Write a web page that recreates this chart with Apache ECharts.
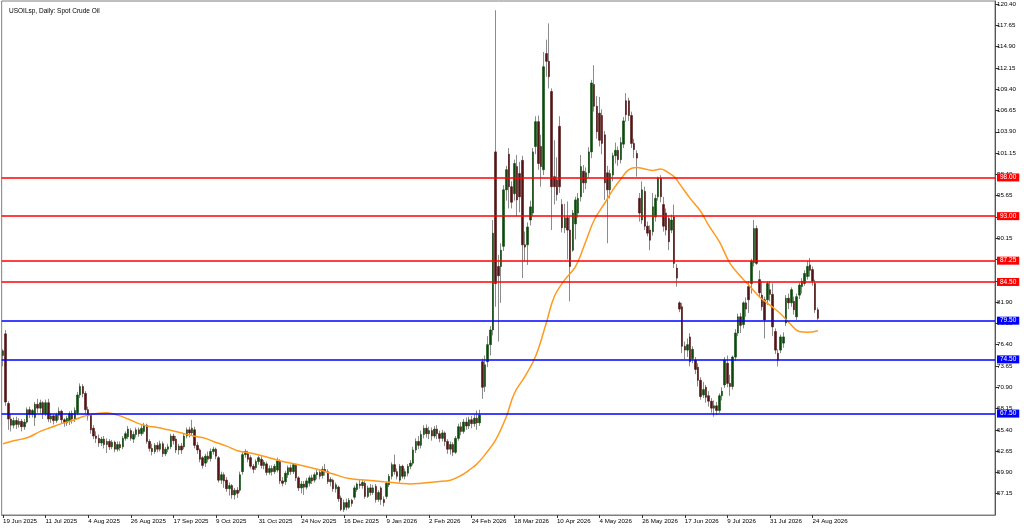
<!DOCTYPE html>
<html>
<head>
<meta charset="utf-8">
<script src="https://cdn.jsdelivr.net/npm/echarts@6/dist/echarts.min.js"></script>
<style>
html,body{margin:0;padding:0;background:#fff;}
#chart{width:1024px;height:530px;}
</style>
</head>
<body>
<div id="chart"></div>
<script>
var chartTitle = 'USOILsp, Daily: Spot Crude Oil';
var xTickLabels = ['19 Jun 2025','11 Jul 2025','4 Aug 2025','26 Aug 2025','17 Sep 2025','9 Oct 2025','31 Oct 2025','24 Nov 2025','16 Dec 2025','9 Jan 2026','2 Feb 2026','24 Feb 2026','18 Mar 2026','10 Apr 2026','4 May 2026','26 May 2026','17 Jun 2026','9 Jul 2026','31 Jul 2026','24 Aug 2026'];
var barsPerTick = 16;
var slotCount = 373;
var redLevels = [98.00, 93.00, 87.25, 84.50];
var blueLevels = [79.50, 74.50, 67.50];
var yMin = 54.40, yMax = 120.79, yStep = 2.75;

// daily candles: [open, close, low, high]
var candles = [
[75.0,75.6,73.6,75.8],[77.8,69.0,68.5,78.3],[68.8,66.8,65.4,69.1],[66.8,66.0,65.2,67.4],[66.0,66.6,65.6,67.0],
[66.6,66.1,65.5,67.1],[66.1,66.5,65.7,66.9],[66.5,65.8,65.2,66.8],[65.8,66.4,65.4,66.8],[66.4,68.0,66.2,68.3],
[68.0,67.4,66.9,68.4],[67.4,67.9,67.0,68.1],[67.0,68.7,65.9,69.0],[68.7,68.2,67.6,69.4],[68.2,68.9,67.5,69.3],
[68.9,67.5,66.8,69.1],[67.5,68.9,67.2,69.3],[68.9,66.8,66.4,69.4],[66.8,67.2,66.3,67.5],[67.2,66.6,66.1,67.4],
[66.6,67.3,66.3,67.6],[67.3,67.8,66.7,68.3],[67.8,66.7,66.2,68.0],[66.7,66.3,65.8,66.9],[66.3,66.9,65.9,67.2],
[66.5,67.5,66.0,67.8],[67.5,66.8,66.2,67.9],[66.8,67.9,66.4,68.3],[67.6,69.9,67.3,70.3],[69.9,71.0,69.5,71.4],
[71.0,70.1,69.6,71.3],[70.1,68.0,67.5,70.4],[68.0,67.2,66.6,68.4],[67.3,65.4,64.9,67.4],[65.6,64.6,64.2,66.0],
[64.6,64.3,63.7,65.2],[64.3,63.7,63.2,64.8],[63.7,64.2,63.3,64.5],[64.2,63.5,63.0,64.6],[63.5,63.9,62.4,64.3],
[63.9,63.2,62.8,64.2],[63.2,63.8,62.9,64.1],[63.8,62.9,62.5,64.0],[62.9,63.5,62.6,63.9],[63.5,63.1,62.7,63.9],
[63.2,64.3,62.9,64.6],[64.3,64.9,64.0,65.2],[64.5,65.5,64.2,65.9],[65.3,64.3,64.0,65.6],[64.2,64.8,63.7,65.2],
[64.8,65.4,64.4,65.7],[65.4,64.9,64.5,65.7],[64.9,65.6,64.6,66.0],[65.2,66.0,64.9,66.3],[66.0,63.9,63.6,66.2],
[63.9,63.0,62.6,64.2],[63.0,62.6,62.1,63.6],[62.6,63.4,62.3,63.7],[63.4,62.9,62.5,63.8],[62.9,63.6,62.6,64.0],
[63.6,62.3,61.9,63.9],[62.3,62.9,62.0,63.2],[62.9,63.2,62.5,63.6],[63.2,64.6,62.9,64.9],[64.6,64.0,63.5,64.9],
[64.2,62.8,62.4,64.6],[62.8,63.3,62.2,63.6],[63.3,62.8,62.3,63.7],[63.2,64.6,62.9,64.9],[64.6,65.4,64.3,65.7],
[65.4,65.0,64.4,65.8],[65.0,65.6,64.7,66.7],[65.4,63.4,63.0,65.8],[63.4,62.8,62.3,63.8],[62.8,61.6,61.2,63.0],
[61.8,60.8,60.4,62.0],[61.1,62.0,60.6,62.3],[62.0,61.6,61.2,62.6],[61.7,62.6,61.3,63.0],[62.6,62.9,62.2,63.2],
[62.9,62.0,61.6,63.1],[61.8,58.9,58.6,62.0],[58.9,59.6,58.4,60.0],[59.6,58.8,57.9,59.9],[58.9,57.8,57.4,59.3],
[57.8,58.2,56.9,58.6],[58.2,57.0,56.5,58.4],[57.0,57.6,56.4,57.9],[57.6,57.2,56.6,58.0],[57.6,59.6,57.3,60.0],
[60.0,62.2,59.6,62.6],[62.2,62.6,61.8,62.9],[62.3,61.6,61.2,62.7],[61.8,60.7,60.4,62.1],[60.7,60.3,59.8,61.0],
[60.5,61.3,60.2,61.6],[61.3,61.8,60.9,62.1],[61.6,60.8,60.4,62.0],[60.8,61.2,60.3,61.5],[61.0,59.9,59.5,61.3],
[59.9,60.4,59.6,60.8],[60.4,60.0,59.5,60.8],[60.0,60.7,59.7,61.0],[60.2,61.4,59.9,61.8],[61.3,58.8,58.4,61.6],
[58.8,58.5,58.1,59.3],[58.7,59.8,58.3,60.1],[59.6,60.5,59.2,60.8],[60.5,60.0,59.6,60.9],[60.0,60.9,59.7,61.1],
[60.8,59.2,58.8,61.0],[59.2,57.9,57.5,59.4],[57.9,58.4,57.2,58.8],[58.4,58.0,57.0,58.8],[58.0,58.8,57.7,59.2],
[58.5,59.2,58.1,59.5],[59.2,58.8,58.4,59.6],[58.9,59.6,58.6,59.9],[59.6,59.9,59.0,60.3],[59.9,59.4,59.0,60.2],
[59.5,60.3,59.1,60.7],[60.3,60.0,59.5,61.0],[60.0,58.7,58.4,60.3],[58.7,59.0,58.1,59.3],[58.9,57.8,57.4,59.1],
[57.8,58.3,57.3,58.6],[58.0,56.5,56.1,58.2],[56.6,55.1,54.9,56.9],[55.1,56.0,54.8,56.4],[56.0,55.4,55.0,56.5],
[55.4,56.3,55.2,56.6],[56.3,55.9,55.5,56.5],[56.7,57.9,56.4,58.2],[57.7,58.4,57.4,58.6],[58.4,58.2,57.8,59.0],
[58.2,58.6,57.8,58.9],[58.5,56.8,56.5,58.8],[56.8,57.9,56.6,58.2],[57.9,57.3,56.9,58.4],[57.3,57.9,57.0,58.3],
[58.1,56.4,56.0,58.4],[56.4,57.3,56.1,57.6],[57.9,56.4,55.7,58.1],[56.4,56.0,55.5,56.8],[56.8,58.5,56.5,58.7],
[58.3,59.4,58.0,59.7],[59.4,60.9,59.0,61.2],[60.9,60.0,59.6,62.2],[60.0,59.4,59.0,60.4],[58.9,60.7,58.6,61.0],
[60.7,59.4,59.1,60.9],[59.4,60.0,59.0,60.4],[59.8,60.7,59.4,61.0],[60.7,61.1,60.3,61.5],[61.1,62.8,60.8,63.2],
[62.8,63.9,62.4,64.3],[63.9,63.4,62.9,64.6],[63.4,64.8,63.0,65.3],[64.8,65.6,64.3,66.0],[65.6,64.9,64.4,66.1],
[64.9,65.3,64.2,65.8],[65.3,64.6,64.0,65.7],[64.6,65.5,64.3,65.9],[65.5,64.9,64.2,66.0],[64.9,64.3,63.8,65.3],
[64.3,65.0,63.9,65.4],[65.0,63.9,63.3,65.2],[63.9,62.9,62.3,64.2],[62.9,63.5,62.2,63.9],[63.5,62.5,62.0,63.8],
[62.5,64.3,62.3,64.6],[64.3,65.8,64.0,66.2],[65.8,65.2,64.7,66.4],[65.2,66.4,64.9,66.8],[66.4,65.9,65.4,67.0],
[65.9,66.7,65.5,67.1],[66.7,66.2,65.6,67.2],[66.2,66.9,65.8,67.4],[66.9,66.3,65.4,67.9],[66.3,67.3,65.9,68.0],
[74.2,70.9,69.4,74.6],[71.0,73.8,70.3,75.0],[74.2,76.4,73.5,77.5],[76.4,78.3,75.0,78.8],[78.3,90.8,77.6,92.5],
[101.3,84.3,81.3,119.6],[86.5,85.3,76.8,88.0],[86.5,88.6,81.8,89.5],[89.1,96.4,88.5,97.0],[96.4,99.0,95.0,99.5],
[101.0,96.8,94.0,101.8],[96.8,94.8,94.0,97.5],[95.9,99.8,95.0,100.3],[99.4,95.1,93.0,100.9],[98.5,95.5,93.5,100.0],
[100.2,89.3,85.0,100.8],[89.3,89.0,87.1,91.0],[89.3,91.6,86.7,92.2],[92.5,94.2,91.8,95.0],[93.4,101.3,93.0,101.8],
[102.0,105.2,101.0,105.9],[105.2,99.8,99.0,106.0],[102.0,99.4,96.8,103.5],[99.0,112.3,98.3,114.2],[114.0,113.0,111.0,115.8],
[113.0,111.0,109.5,117.9],[109.1,96.8,91.2,109.5],[98.1,96.8,94.5,102.8],[97.7,95.8,95.0,100.6],[104.6,96.8,96.0,105.9],
[94.5,91.5,90.9,95.2],[91.5,92.8,90.8,94.6],[92.8,91.2,87.4,94.9],[91.2,86.5,82.0,93.0],[88.6,93.4,88.4,93.8],
[92.0,95.1,90.0,95.5],[93.4,95.3,92.8,96.0],[95.5,99.4,94.9,100.9],[98.8,97.3,96.0,99.6],[97.3,98.6,96.5,99.3],
[98.6,101.3,98.0,101.9],[101.3,110.2,100.5,110.6],[110.0,107.2,106.5,112.5],[107.2,103.9,103.0,108.5],[106.3,102.8,102.0,108.4],
[106.0,102.4,101.0,106.8],[103.5,97.3,95.1,104.0],[98.6,96.4,89.5,99.5],[96.4,98.5,95.3,99.0],[98.3,100.8,97.5,101.2],
[100.8,101.5,99.8,102.5],[101.5,100.3,99.5,102.0],[100.3,102.5,99.8,103.2],[102.3,105.3,101.8,105.8],[107.9,106.1,105.2,108.9],
[107.9,106.0,105.3,108.3],[106.0,102.4,101.8,106.5],[102.4,101.6,100.5,103.0],[101.1,100.5,98.1,101.5],[95.3,93.4,92.3,96.0],
[92.5,96.4,92.0,97.5],[96.2,91.7,91.2,96.8],[91.7,90.8,90.4,92.3],[91.2,89.9,88.6,91.8],[91.0,94.2,90.5,96.0],
[92.9,95.3,92.3,95.8],[95.5,97.9,95.0,98.1],[97.9,95.5,94.8,98.3],[94.5,91.7,91.0,95.5],[93.4,91.2,90.5,94.0],
[92.7,89.7,88.6,93.0],[91.2,92.5,90.8,93.2],[92.9,86.9,86.3,94.5],[86.3,85.0,83.9,86.8],[81.8,81.0,80.6,82.0],
[81.3,76.2,75.3,81.8],[76.2,75.7,74.5,76.8],[75.7,76.4,74.8,77.2],[77.4,74.2,73.6,77.9],[74.6,75.8,74.0,76.2],
[74.4,73.2,72.6,74.8],[73.5,71.8,71.0,74.0],[71.8,69.7,69.3,72.2],[69.9,70.6,69.5,71.6],[70.9,69.6,68.9,71.2],
[69.8,69.1,68.4,70.4],[69.1,68.2,67.6,69.5],[68.2,68.5,67.1,69.2],[68.5,67.9,67.3,69.0],[67.9,69.8,67.6,70.1],
[69.8,70.4,69.2,70.9],[71.2,74.4,70.8,74.8],[74.0,71.4,70.9,75.0],[71.4,71.0,69.8,72.5],[71.0,74.8,70.6,75.0],
[74.8,77.9,74.3,78.4],[77.9,80.0,77.5,80.4],[80.0,78.9,77.9,80.5],[79.0,81.8,78.5,82.0],[81.8,81.0,80.0,82.5],
[83.9,82.2,80.5,84.6],[84.3,87.2,83.0,87.5],[87.0,91.4,86.5,92.5],[91.4,86.9,86.7,91.8],[84.8,83.1,82.5,86.0],
[82.8,81.3,80.8,84.6],[82.2,79.6,77.2,82.6],[82.2,84.3,81.5,84.6],[83.5,82.9,82.0,84.6],[82.9,78.7,77.5,84.3],
[78.1,75.7,75.2,78.5],[75.3,74.4,73.6,75.8],[75.7,77.4,75.3,77.7],[76.6,77.4,76.0,78.0],[79.2,82.4,78.8,82.8],
[82.4,81.8,81.0,83.0],[81.8,83.5,81.3,83.8],[82.0,80.9,80.3,82.6],[80.0,82.6,79.6,83.0],[82.8,84.1,82.3,84.4],
[83.9,84.6,83.0,85.0],[84.3,85.6,84.0,86.0],[85.2,86.5,84.8,87.2],[86.7,86.0,85.2,87.6],[86.1,84.6,84.0,86.5],
[84.3,80.9,80.5,84.8],[80.9,79.8,79.6,81.2]
];

// moving average line: [bar index, value]
var maPoints = [
[0,63.6],[3,63.9],[7,64.2],[10,64.5],[14,65.2],[18,65.7],[22,66.2],[26,66.6],[29,67.0],[32,67.3],[36,67.55],[39,67.6],
[43,67.3],[47,66.8],[51,66.2],[54,65.9],[58,65.7],[62,65.4],[66,65.1],[69,64.8],[73,64.5],[76,64.3],[79,63.9],[84,63.3],
[88,62.7],[93,62.4],[99,61.9],[105,61.3],[111,60.9],[118,60.3],[124,59.7],[130,59.1],[137,58.9],[143,58.7],[149,58.5],
[153,58.4],[157,58.5],[163,58.7],[168,58.9],[172,59.5],[175,60.2],[178,61.0],[181,62.2],[185,64.1],[189,67.1],[192,70.1],
[196,72.3],[200,74.9],[204,79.2],[207,82.6],[211,84.8],[215,86.5],[219,89.9],[222,92.5],[226,94.7],[229,96.4],[232,97.8],
[235,99.0],[238,99.3],[241,99.1],[244,98.9],[247,99.1],[249,98.8],[252,98.1],[254,97.2],[258,95.3],[262,93.6],[265,91.8],
[269,89.7],[273,86.9],[277,85.2],[280,84.1],[284,82.6],[288,81.5],[292,80.4],[295,79.3],[299,78.1],[302,78.0],[306,78.2]
];

var categories = [];
for (var i = 0; i < slotCount; i++) categories.push(String(i));
function isTick(idx) { return idx % barsPerTick === 0 && idx / barsPerTick < xTickLabels.length; }

var bodies = candles.map(function (c) {
  return [c[0], c[1], Math.min(c[0], c[1]), Math.max(c[0], c[1])];
});

function levelLines(levels, color) {
  return levels.map(function (v) {
    return {
      yAxis: v,
      lineStyle: { color: color, width: 1.5, type: 'solid' },
      label: {
        show: true, position: 'end', distance: 2,
        formatter: v.toFixed(2), color: '#ffffff', backgroundColor: color,
        fontSize: 6.5, fontFamily: 'Liberation Sans', padding: [1, 3, 0, 3]
      }
    };
  });
}

var font = 'Liberation Sans';
var chart = echarts.init(document.getElementById('chart'), null, { renderer: 'canvas' });
chart.setOption({
  animation: false,
  backgroundColor: '#ffffff',
  title: {
    text: chartTitle, left: 4, top: 3,
    textStyle: { fontSize: 6.5, fontWeight: 'normal', color: '#000', fontFamily: font }
  },
  grid: { left: 1.5, right: 29, top: 1, bottom: 15, show: true, borderColor: '#7f7f7f', borderWidth: 1, backgroundColor: '#ffffff' },
  xAxis: {
    type: 'category', data: categories, boundaryGap: true,
    axisLine: { show: true, lineStyle: { color: '#7f7f7f' } },
    axisTick: { show: true, alignWithLabel: true, length: 3, interval: function (idx) { return isTick(idx); }, lineStyle: { color: '#333' } },
    axisLabel: {
      show: true, interval: function (idx) { return isTick(idx); }, align: 'left', margin: 3,
      fontSize: 6.2, fontFamily: font, color: '#000',
      formatter: function (val, idx) { return isTick(idx) ? xTickLabels[idx / barsPerTick] : ''; }
    },
    splitLine: { show: false }
  },
  yAxis: {
    type: 'value', position: 'right', min: yMin, max: yMax, interval: yStep, scale: true,
    axisLine: { show: true, lineStyle: { color: '#555' } },
    axisTick: { show: true, length: 4, lineStyle: { color: '#333' } },
    axisLabel: {
      margin: 2, fontSize: 6.2, fontFamily: font, color: '#000',
      showMinLabel: false, showMaxLabel: false,
      formatter: function (v) { return v.toFixed(2); }
    },
    splitLine: { show: false }
  },
  series: [
    {
      type: 'candlestick', name: 'wicks', data: candles, barWidth: 1,
      itemStyle: { color: '#8c8c8c', color0: '#8c8c8c', borderColor: '#8c8c8c', borderColor0: '#8c8c8c', borderWidth: 1 },
      z: 2
    },
    {
      type: 'candlestick', name: 'bodies', data: bodies, barWidth: 2,
      itemStyle: { color: '#0c4a0c', color0: '#521414', borderColor: '#0c4a0c', borderColor0: '#521414', borderWidth: 0.6 },
      z: 3
    },
    {
      type: 'line', name: 'MA', data: maPoints, showSymbol: false, smooth: 0.4,
      lineStyle: { color: '#ff9a1f', width: 1.5 }, z: 4,
      markLine: {
        silent: true, symbol: ['none', 'none'],
        data: levelLines(redLevels, '#ff0000').concat(levelLines(blueLevels, '#0000ff'))
      }
    }
  ]
});
</script>
</body>
</html>
